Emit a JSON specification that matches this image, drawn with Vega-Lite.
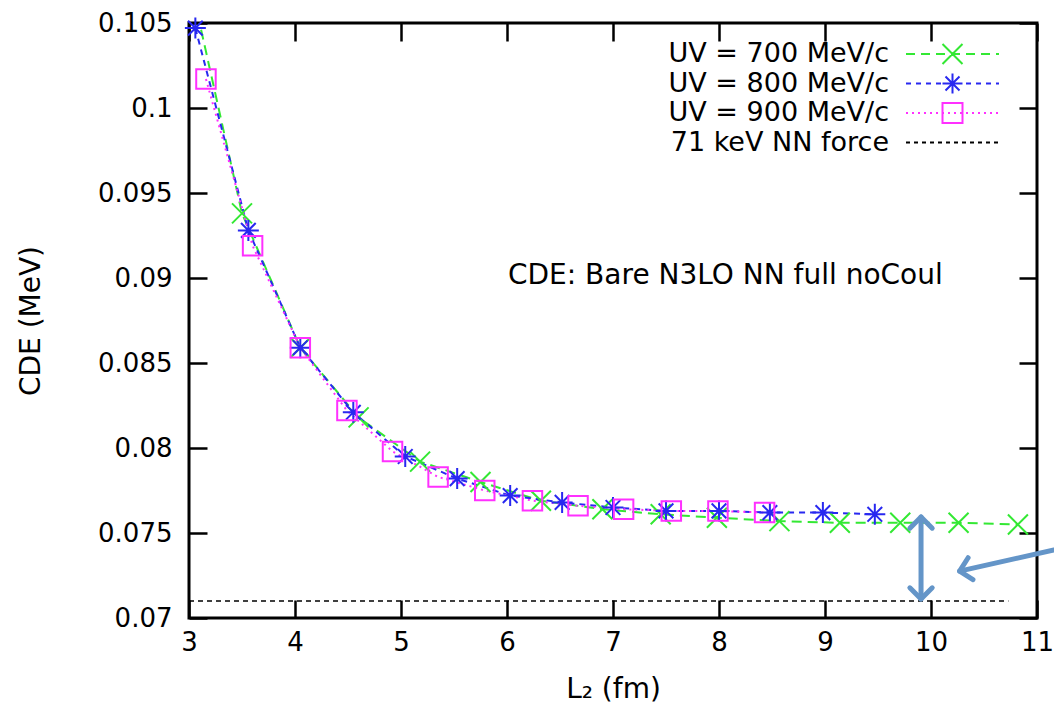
{
  "$schema": "https://vega.github.io/schema/vega-lite/v6.json",
  "width": 848,
  "height": 595,
  "autosize": {"type": "none"},
  "padding": {"left": 189, "top": 23, "right": 17, "bottom": 91},
  "background": "white",
  "config": {
    "view": {"stroke": "black", "strokeWidth": 3},
    "font": "DejaVu Sans"
  },
  "datasets": {
    "pts": [
      {"series": "UV = 700 MeV/c", "L2": 2.95, "CDE": 0.1092},
      {"series": "UV = 700 MeV/c", "L2": 3.5, "CDE": 0.0938},
      {"series": "UV = 700 MeV/c", "L2": 4.05, "CDE": 0.0859},
      {"series": "UV = 700 MeV/c", "L2": 4.6, "CDE": 0.0818},
      {"series": "UV = 700 MeV/c", "L2": 5.18, "CDE": 0.0792},
      {"series": "UV = 700 MeV/c", "L2": 5.75, "CDE": 0.0780},
      {"series": "UV = 700 MeV/c", "L2": 6.32, "CDE": 0.0769},
      {"series": "UV = 700 MeV/c", "L2": 6.9, "CDE": 0.0764},
      {"series": "UV = 700 MeV/c", "L2": 7.45, "CDE": 0.0761},
      {"series": "UV = 700 MeV/c", "L2": 7.98, "CDE": 0.0759},
      {"series": "UV = 700 MeV/c", "L2": 8.57, "CDE": 0.0757},
      {"series": "UV = 700 MeV/c", "L2": 9.14, "CDE": 0.0756},
      {"series": "UV = 700 MeV/c", "L2": 9.71, "CDE": 0.0756},
      {"series": "UV = 700 MeV/c", "L2": 10.26, "CDE": 0.0756},
      {"series": "UV = 700 MeV/c", "L2": 10.82, "CDE": 0.0755},
      {"series": "UV = 800 MeV/c", "L2": 3.06, "CDE": 0.1047},
      {"series": "UV = 800 MeV/c", "L2": 3.56, "CDE": 0.0928},
      {"series": "UV = 800 MeV/c", "L2": 4.05, "CDE": 0.0859},
      {"series": "UV = 800 MeV/c", "L2": 4.55, "CDE": 0.0821},
      {"series": "UV = 800 MeV/c", "L2": 5.04, "CDE": 0.0795},
      {"series": "UV = 800 MeV/c", "L2": 5.53, "CDE": 0.0782},
      {"series": "UV = 800 MeV/c", "L2": 6.03, "CDE": 0.0772},
      {"series": "UV = 800 MeV/c", "L2": 6.52, "CDE": 0.0768},
      {"series": "UV = 800 MeV/c", "L2": 7.0, "CDE": 0.0765},
      {"series": "UV = 800 MeV/c", "L2": 7.5, "CDE": 0.0763},
      {"series": "UV = 800 MeV/c", "L2": 8.0, "CDE": 0.0763},
      {"series": "UV = 800 MeV/c", "L2": 8.48, "CDE": 0.0762},
      {"series": "UV = 800 MeV/c", "L2": 8.98, "CDE": 0.0762},
      {"series": "UV = 800 MeV/c", "L2": 9.47, "CDE": 0.0761},
      {"series": "UV = 900 MeV/c", "L2": 3.16, "CDE": 0.1017},
      {"series": "UV = 900 MeV/c", "L2": 3.6, "CDE": 0.0919},
      {"series": "UV = 900 MeV/c", "L2": 4.05, "CDE": 0.0859},
      {"series": "UV = 900 MeV/c", "L2": 4.49, "CDE": 0.0822},
      {"series": "UV = 900 MeV/c", "L2": 4.92, "CDE": 0.0798},
      {"series": "UV = 900 MeV/c", "L2": 5.35, "CDE": 0.0783},
      {"series": "UV = 900 MeV/c", "L2": 5.79, "CDE": 0.0775},
      {"series": "UV = 900 MeV/c", "L2": 6.24, "CDE": 0.0769},
      {"series": "UV = 900 MeV/c", "L2": 6.67, "CDE": 0.0766},
      {"series": "UV = 900 MeV/c", "L2": 7.1, "CDE": 0.0764},
      {"series": "UV = 900 MeV/c", "L2": 7.55, "CDE": 0.0763},
      {"series": "UV = 900 MeV/c", "L2": 7.99, "CDE": 0.0763},
      {"series": "UV = 900 MeV/c", "L2": 8.43, "CDE": 0.0762},
      {"series": "71 keV NN force", "L2": 3.0, "CDE": 0.071},
      {"series": "71 keV NN force", "L2": 10.73, "CDE": 0.071}
    ],
    "arrows": [
      {"part": "gap", "L2": 9.906, "CDE": 0.07594, "L2end": 9.906, "CDEend": 0.07112},
      {"part": "pointer", "L2": 11.16, "CDE": 0.0740, "L2end": 10.27, "CDEend": 0.07276}
    ],
    "notes": [
      {"label": "CDE: Bare N3LO NN full noCoul", "L2": 8.06, "CDE": 0.0901}
    ]
  },
  "resolve": {"axis": {"x": "independent", "y": "independent"}},
  "layer": [
    {
      "data": {"name": "pts"},
      "transform": [{"filter": "datum.series === 'UV = 700 MeV/c'"}],
      "mark": {"type": "line", "color": "#33e833", "strokeWidth": 2, "strokeDash": [10, 6], "clip": true},
      "encoding": {
        "x": {"field": "L2", "type": "quantitative",
          "scale": {"domain": [3, 11], "nice": false, "zero": false},
          "axis": {"orient": "bottom", "values": [3, 4, 5, 6, 7, 8, 9, 10, 11], "format": "d",
            "tickSize": -18, "tickWidth": 2.5, "tickColor": "black", "domain": false, "grid": false,
            "labelFontSize": 26, "labelFont": "DejaVu Sans", "labelColor": "black", "labelPadding": 29, "labelFlush": false,
            "title": "L₂ (fm)", "titleFontSize": 28, "titleFont": "DejaVu Sans", "titleFontWeight": "normal", "titleColor": "black", "titlePadding": 20}},
        "y": {"field": "CDE", "type": "quantitative",
          "scale": {"domain": [0.07, 0.105], "nice": false, "zero": false},
          "axis": {"orient": "left", "values": [0.07, 0.075, 0.08, 0.085, 0.09, 0.095, 0.1, 0.105], "format": ".3~g",
            "tickSize": -18, "tickWidth": 2.5, "tickColor": "black", "domain": false, "grid": false,
            "labelFontSize": 26, "labelFont": "DejaVu Sans", "labelColor": "black", "labelPadding": 35, "labelFlush": false,
            "title": "CDE (MeV)", "titleFontSize": 28, "titleFont": "DejaVu Sans", "titleFontWeight": "normal", "titleColor": "black", "titlePadding": 52}}
      }
    },
    {
      "data": {"name": "pts"},
      "transform": [{"filter": "datum.series === 'UV = 800 MeV/c'"}],
      "mark": {"type": "line", "color": "#2828f0", "strokeWidth": 2, "strokeDash": [6, 5]},
      "encoding": {
        "x": {"field": "L2", "type": "quantitative", "axis": null},
        "y": {"field": "CDE", "type": "quantitative", "axis": null}
      }
    },
    {
      "data": {"name": "pts"},
      "transform": [{"filter": "datum.series === 'UV = 900 MeV/c'"}],
      "mark": {"type": "line", "color": "#ff30ff", "strokeWidth": 2, "strokeDash": [2, 4]},
      "encoding": {
        "x": {"field": "L2", "type": "quantitative", "axis": null},
        "y": {"field": "CDE", "type": "quantitative", "axis": null}
      }
    },
    {
      "data": {"name": "pts"},
      "transform": [{"filter": "datum.series === '71 keV NN force'"}],
      "mark": {"type": "line", "color": "black", "strokeWidth": 1.5, "strokeDash": [5, 4]},
      "encoding": {
        "x": {"field": "L2", "type": "quantitative", "axis": null},
        "y": {"field": "CDE", "type": "quantitative", "axis": null}
      }
    },
    {
      "data": {"name": "pts"},
      "transform": [{"filter": "datum.series === 'UV = 700 MeV/c'"}],
      "mark": {"type": "point", "shape": "M-1,-1L1,1M-1,1L1,-1", "size": 400, "filled": false, "color": "#33e833", "strokeWidth": 2, "opacity": 1, "clip": true},
      "encoding": {
        "x": {"field": "L2", "type": "quantitative", "axis": null},
        "y": {"field": "CDE", "type": "quantitative", "axis": null}
      }
    },
    {
      "data": {"name": "pts"},
      "transform": [{"filter": "datum.series === 'UV = 800 MeV/c'"}],
      "mark": {"type": "point", "shape": "M0,-1L0,1M-1,0L1,0M-0.7,-0.7L0.7,0.7M-0.7,0.7L0.7,-0.7", "size": 440, "filled": false, "color": "#2828f0", "strokeWidth": 2, "opacity": 1},
      "encoding": {
        "x": {"field": "L2", "type": "quantitative", "axis": null},
        "y": {"field": "CDE", "type": "quantitative", "axis": null}
      }
    },
    {
      "data": {"name": "pts"},
      "transform": [{"filter": "datum.series === 'UV = 900 MeV/c'"}],
      "mark": {"type": "point", "shape": "M-1,-1L1,-1L1,1L-1,1Z", "size": 380, "filled": false, "color": "#ff30ff", "strokeWidth": 2, "opacity": 1},
      "encoding": {
        "x": {"field": "L2", "type": "quantitative", "axis": null},
        "y": {"field": "CDE", "type": "quantitative", "axis": null}
      }
    },
    {
      "data": {"name": "pts"},
      "mark": {"type": "point", "size": 400, "filled": false, "opacity": 0, "strokeWidth": 2},
      "encoding": {
        "x": {"field": "L2", "type": "quantitative",
          "axis": {"orient": "top", "values": [3, 4, 5, 6, 7, 8, 9, 10, 11], "labels": false, "title": null,
            "tickSize": -18, "tickWidth": 2.5, "tickColor": "black", "domain": false, "grid": false}},
        "y": {"field": "CDE", "type": "quantitative",
          "axis": {"orient": "right", "values": [0.07, 0.075, 0.08, 0.085, 0.09, 0.095, 0.1, 0.105], "labels": false, "title": null,
            "tickSize": -18, "tickWidth": 2.5, "tickColor": "black", "domain": false, "grid": false}},
        "shape": {"field": "series", "type": "nominal",
          "scale": {
            "domain": ["UV = 700 MeV/c", "UV = 800 MeV/c", "UV = 900 MeV/c", "71 keV NN force"],
            "range": [
              "M-4.65,0L-3.75,0M-3.15,0L-2.25,0M-1.65,0L-0.75,0M-0.15,0L0.75,0M1.35,0L2.25,0M2.85,0L3.75,0M4.35,0L4.65,0M-1,-1L1,1M-1,1L1,-1",
              "M-4.65,0L-4.15,0M-3.65,0L-3.15,0M-2.65,0L-2.15,0M-1.65,0L-1.15,0M-0.65,0L-0.15,0M0.35,0L0.85,0M1.35,0L1.85,0M2.35,0L2.85,0M3.35,0L3.85,0M4.35,0L4.65,0M0,-1L0,1M-1,0L1,0M-0.7,-0.7L0.7,0.7M-0.7,0.7L0.7,-0.7",
              "M-4.65,0L-4.45,0M-4.05,0L-3.85,0M-3.45,0L-3.25,0M-2.85,0L-2.65,0M-2.25,0L-2.05,0M-1.65,0L-1.45,0M-1.05,0L-0.85,0M-0.45,0L-0.25,0M0.15,0L0.35,0M0.75,0L0.95,0M1.35,0L1.55,0M1.95,0L2.15,0M2.55,0L2.75,0M3.15,0L3.35,0M3.75,0L3.95,0M4.35,0L4.55,0M-1,-1L1,-1L1,1L-1,1Z",
              "M-4.65,0L-4.25,0M-3.85,0L-3.45,0M-3.05,0L-2.65,0M-2.25,0L-1.85,0M-1.45,0L-1.05,0M-0.65,0L-0.25,0M0.15,0L0.55,0M0.95,0L1.35,0M1.75,0L2.15,0M2.55,0L2.95,0M3.35,0L3.75,0M4.15,0L4.55,0"
            ]},
          "legend": {"title": null, "orient": "none", "legendX": 750, "legendY": 17.5, "padding": 0,
            "labelAlign": "right", "labelOffset": -77, "labelFontSize": 27, "labelFont": "DejaVu Sans", "labelColor": "black", "labelLimit": 0,
            "symbolSize": 400, "symbolStrokeWidth": 2, "symbolOpacity": 1, "symbolFillColor": "transparent", "rowPadding": 0.5}},
        "color": {"field": "series", "type": "nominal",
          "scale": {
            "domain": ["UV = 700 MeV/c", "UV = 800 MeV/c", "UV = 900 MeV/c", "71 keV NN force"],
            "range": ["#33e833", "#2828f0", "#ff30ff", "black"]},
          "legend": {"title": null, "orient": "none", "legendX": 750, "legendY": 17.5, "padding": 0,
            "labelAlign": "right", "labelOffset": -77, "labelFontSize": 27, "labelFont": "DejaVu Sans", "labelColor": "black", "labelLimit": 0,
            "symbolSize": 400, "symbolStrokeWidth": 2, "symbolOpacity": 1, "symbolFillColor": "transparent", "rowPadding": 0.5}}
      }
    },
    {
      "data": {"name": "notes"},
      "mark": {"type": "text", "font": "DejaVu Sans", "fontSize": 28, "color": "black", "align": "center", "baseline": "middle"},
      "encoding": {
        "x": {"field": "L2", "type": "quantitative", "axis": null},
        "y": {"field": "CDE", "type": "quantitative", "axis": null},
        "text": {"field": "label"}
      }
    },
    {
      "data": {"name": "arrows"},
      "mark": {"type": "rule", "color": "#6495c8", "strokeWidth": 5, "strokeCap": "round"},
      "encoding": {
        "x": {"field": "L2", "type": "quantitative", "axis": null},
        "y": {"field": "CDE", "type": "quantitative", "axis": null},
        "x2": {"field": "L2end"},
        "y2": {"field": "CDEend"}
      }
    },
    {
      "data": {"name": "arrows"},
      "transform": [{"filter": "datum.part === 'gap'"}],
      "mark": {"type": "point", "shape": "M-1,1L0,0L1,1", "size": 500, "filled": false, "color": "#6495c8", "strokeWidth": 5, "strokeCap": "round", "strokeJoin": "round", "opacity": 1, "angle": 0},
      "encoding": {
        "x": {"field": "L2", "type": "quantitative", "axis": null},
        "y": {"field": "CDE", "type": "quantitative", "axis": null}
      }
    },
    {
      "data": {"name": "arrows"},
      "transform": [{"filter": "datum.part === 'gap'"}],
      "mark": {"type": "point", "shape": "M-1,1L0,0L1,1", "size": 500, "filled": false, "color": "#6495c8", "strokeWidth": 5, "strokeCap": "round", "strokeJoin": "round", "opacity": 1, "angle": 180},
      "encoding": {
        "x": {"field": "L2end", "type": "quantitative", "axis": null},
        "y": {"field": "CDEend", "type": "quantitative", "axis": null}
      }
    },
    {
      "data": {"name": "arrows"},
      "transform": [{"filter": "datum.part === 'pointer'"}],
      "mark": {"type": "point", "shape": "M-1,1L0,0L1,1", "size": 500, "filled": false, "color": "#6495c8", "strokeWidth": 5, "strokeCap": "round", "strokeJoin": "round", "opacity": 1, "angle": -102.5},
      "encoding": {
        "x": {"field": "L2end", "type": "quantitative", "axis": null},
        "y": {"field": "CDEend", "type": "quantitative", "axis": null}
      }
    }
  ]
}
